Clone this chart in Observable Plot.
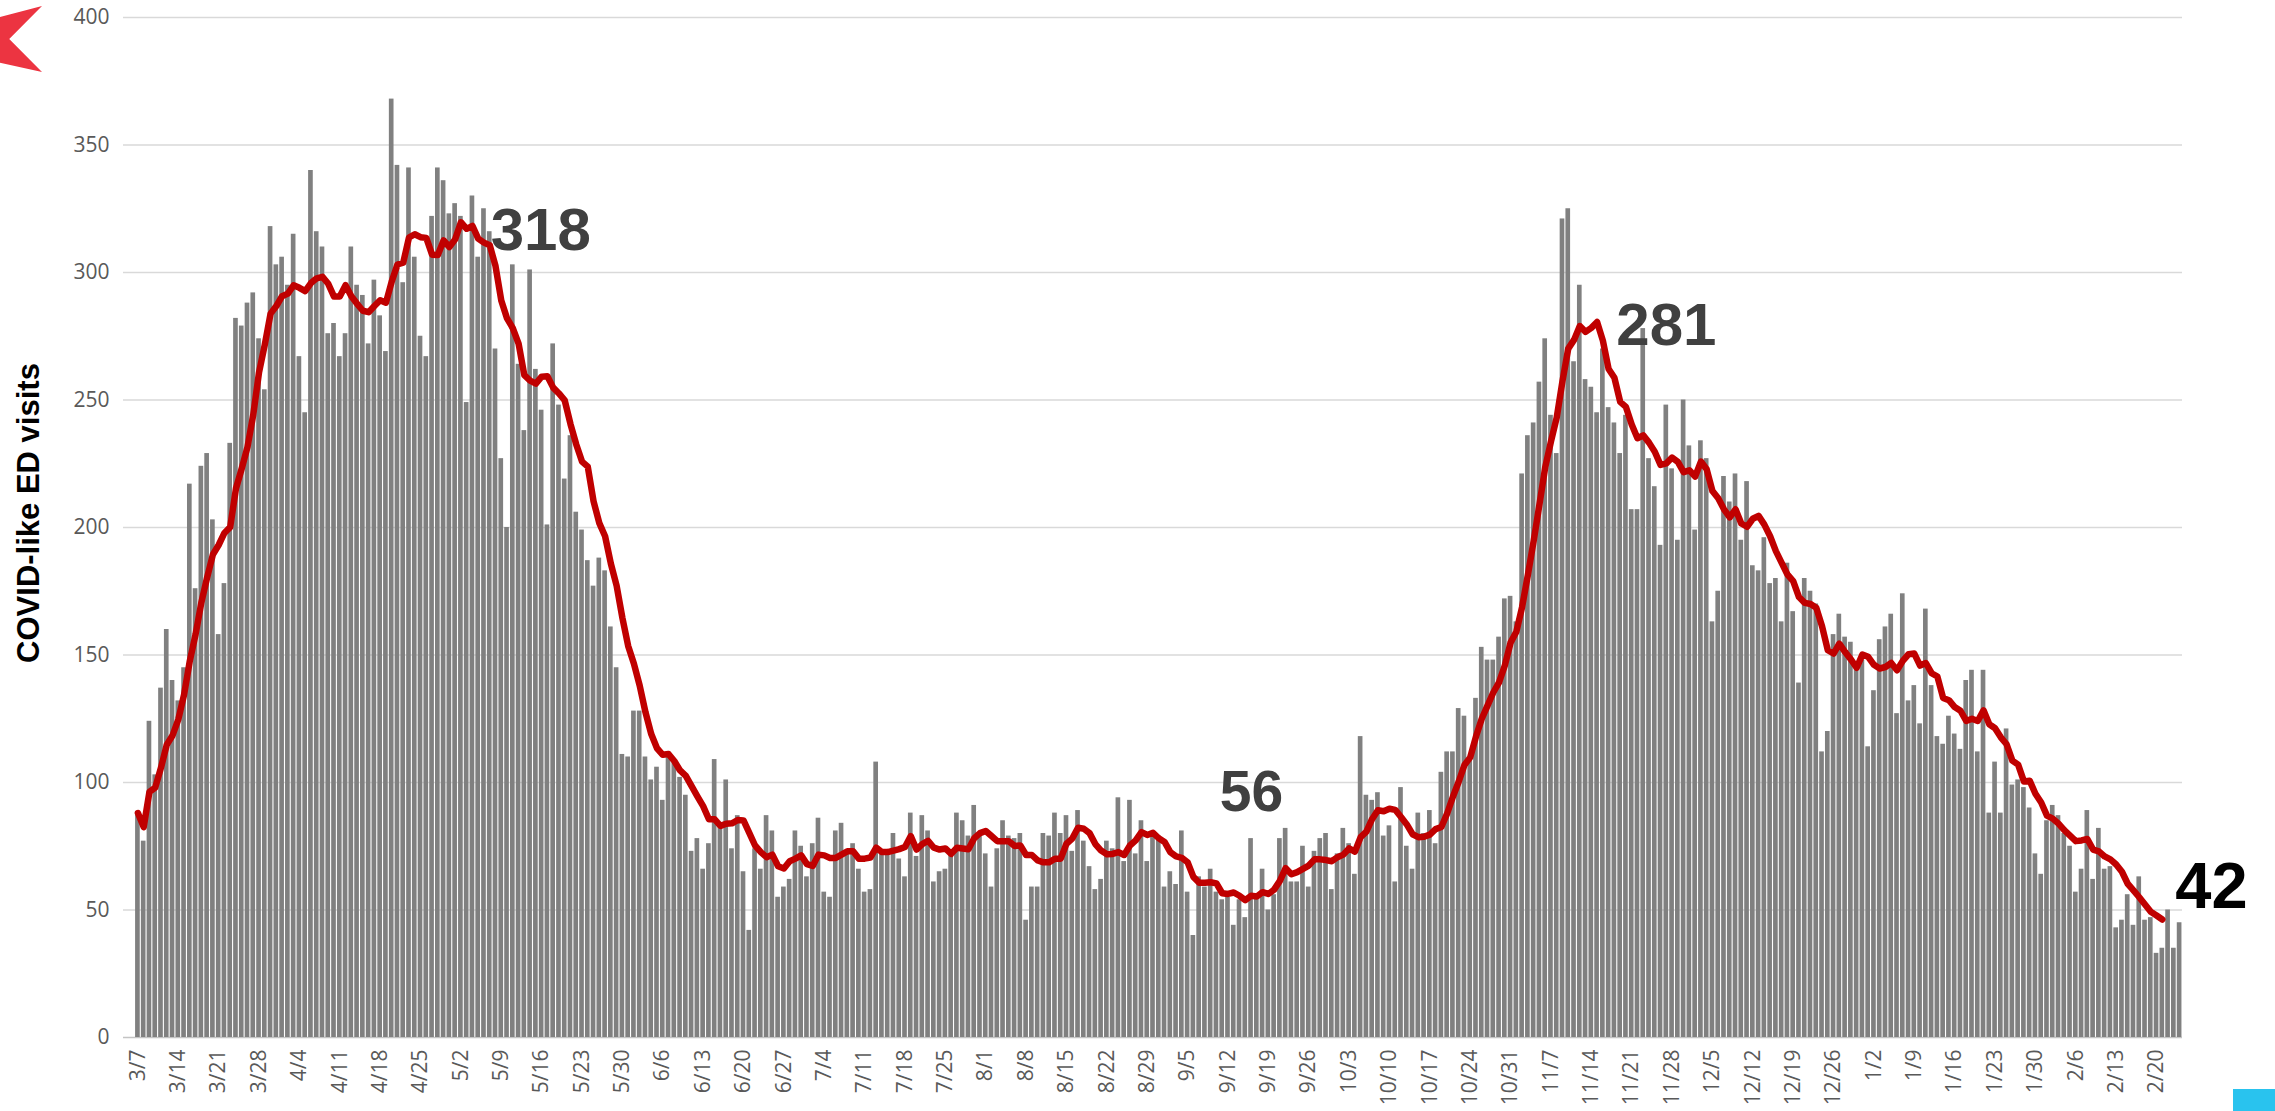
<!DOCTYPE html>
<html>
<head>
<meta charset="utf-8">
<script src="https://cdn.jsdelivr.net/npm/d3@7"></script>
<script src="https://cdn.jsdelivr.net/npm/@observablehq/plot@0.6"></script>
<style>
  body { margin: 0; background: #fff; }
  #wrap { position: relative; width: 2275px; height: 1111px; overflow: hidden; background: #fff; }
  #chart { position: absolute; left: 0; top: 0; }
  #ytitle { position: absolute; left: 29px; top: 513px; transform: translate(-50%, -50%) rotate(-90deg);
            font: bold 31px "Liberation Sans", Arial, sans-serif; color: #000; white-space: nowrap; }
  #logo { position: absolute; left: 0; top: 6px; width: 42px; height: 66px; background: #EC3441;
          clip-path: polygon(0% 16.7%, 100% 0%, 22% 50%, 100% 100%, 0% 86%); }
  #blue { position: absolute; left: 2233px; top: 1089px; width: 42px; height: 22px; background: #29C3EE; }
</style>
</head>
<body>
<div id="wrap">
  <div id="chart"></div>
  <div id="ytitle">COVID-like ED visits</div>
  <div id="logo"></div>
  <div id="blue"></div>
</div>
<script>
// Daily COVID-like ED visits, 3/7/2020 – 2/24/2021, one array per month
const visitsMar2020 = [88, 77, 124, 103, 137, 160, 140, 132, 145, 217, 176, 224, 229, 203, 158, 178, 233, 282, 279, 288, 292, 274, 254, 318, 303];
const visitsApr2020 = [306, 295, 315, 267, 245, 340, 316, 310, 276, 280, 267, 276, 310, 295, 291, 272, 297, 283, 269, 368, 342, 296, 341, 306, 275, 267, 322, 341, 336, 323];
const visitsMay2020 = [327, 322, 249, 330, 306, 325, 316, 270, 227, 200, 303, 264, 238, 301, 262, 246, 201, 272, 248, 219, 236, 206, 199, 187, 177, 188, 183, 161, 145, 111, 110];
const visitsJun2020 = [128, 128, 110, 101, 106, 93, 112, 109, 102, 95, 73, 78, 66, 76, 109, 84, 101, 74, 87, 65, 42, 74, 66, 87, 81, 55, 59, 62, 81, 75];
const visitsJul2020 = [63, 76, 86, 57, 55, 81, 84, 72, 76, 66, 57, 58, 108, 72, 72, 80, 70, 63, 88, 71, 87, 81, 61, 65, 66, 73, 88, 85, 79, 91, 79];
const visitsAug2020 = [72, 59, 74, 85, 79, 78, 80, 46, 59, 59, 80, 79, 88, 80, 87, 73, 89, 77, 67, 58, 62, 77, 74, 94, 69, 93, 72, 85, 69, 80, 79];
const visitsSep2020 = [59, 65, 60, 81, 57, 40, 63, 59, 66, 57, 54, 55, 44, 54, 47, 78, 55, 66, 50, 56, 78, 82, 61, 61, 75, 59, 73, 78, 80, 58];
const visitsOct2020 = [72, 82, 76, 64, 118, 95, 93, 96, 79, 83, 61, 98, 75, 66, 88, 80, 89, 76, 104, 112, 112, 129, 126, 110, 133, 153, 148, 148, 157, 172, 173];
const visitsNov2020 = [163, 221, 236, 241, 257, 274, 244, 229, 321, 325, 265, 295, 258, 255, 245, 270, 247, 241, 229, 244, 207, 207, 278, 227, 216, 193, 248, 223, 195, 250];
const visitsDec2020 = [232, 199, 234, 227, 163, 175, 220, 210, 221, 195, 218, 185, 183, 196, 178, 180, 163, 186, 167, 139, 180, 175, 170, 112, 120, 158, 166, 157, 155, 147, 148];
const visitsJan2021 = [114, 136, 156, 161, 166, 127, 174, 132, 138, 123, 168, 138, 118, 115, 126, 119, 113, 140, 144, 112, 144, 88, 108, 88, 121, 99, 101, 98, 90, 72, 64];
const visitsFeb2021 = [85, 91, 87, 80, 75, 57, 66, 89, 62, 82, 66, 67, 43, 46, 56, 44, 63, 46, 47, 33, 35, 50, 35, 45];

const firstDay = "2020-03-07";
const lastAverageDay = "2021-02-21";   // the 7-day average line stops here

// Axis tick labels
const xTickLabels = ["3/7","3/14","3/21","3/28","4/4","4/11","4/18","4/25","5/2","5/9","5/16","5/23","5/30",
  "6/6","6/13","6/20","6/27","7/4","7/11","7/18","7/25","8/1","8/8","8/15","8/22","8/29","9/5","9/12","9/19",
  "9/26","10/3","10/10","10/17","10/24","10/31","11/7","11/14","11/21","11/28","12/5","12/12","12/19","12/26",
  "1/2","1/9","1/16","1/23","1/30","2/6","2/13","2/20"];
const yTicks = [0, 50, 100, 150, 200, 250, 300, 350, 400];

// Annotations
const annoLabels = ["318", "281", "56", "42"];
const annoDates  = ["2020-05-03", "2020-11-14", "2020-09-14", "2021-02-21"];
const annoValues = [318, 281, 56, 42];

const DAY = 864e5;
const visits = [].concat(visitsMar2020, visitsApr2020, visitsMay2020, visitsJun2020, visitsJul2020,
  visitsAug2020, visitsSep2020, visitsOct2020, visitsNov2020, visitsDec2020, visitsJan2021, visitsFeb2021);
const t0 = Date.parse(firstDay + "T00:00:00Z");
const data = visits.map((v, i) => ({date: new Date(t0 + i * DAY), visits: v}));
const tEnd = Date.parse(lastAverageDay + "T00:00:00Z");
const lineData = data.filter(d => +d.date <= tEnd);

const tickDates = xTickLabels.map(s => {
  const [m, d] = s.split("/").map(Number);
  return new Date(Date.UTC(m >= 3 ? 2020 : 2021, m - 1, d, 12));
});
const tickLabelOf = new Map(tickDates.map((d, i) => [+d, xTickLabels[i]]));

const anno = annoLabels.map((label, i) => ({
  label, value: annoValues[i], date: new Date(Date.parse(annoDates[i] + "T12:00:00Z"))
}));

const textStyle = {x: "date", y: "value", text: "label", fontWeight: "bold",
  fontFamily: "'Liberation Sans', Arial, sans-serif"};

const chart = Plot.plot({
  width: 2275,
  height: 1111,
  marginTop: 17,
  marginRight: 93,
  marginBottom: 74,
  marginLeft: 123,
  style: {fontFamily: "'Open Sans', sans-serif", fontSize: "21px", color: "#595959", background: "white", overflow: "visible"},
  x: {
    type: "utc",
    domain: [new Date(Date.UTC(2020, 2, 5)), new Date(Date.UTC(2021, 1, 25))],
    ticks: tickDates,
    tickFormat: d => tickLabelOf.get(+d) ?? "",
    tickRotate: -90,
    tickSize: 0,
    tickPadding: 12,
    label: null
  },
  y: {
    domain: [0, 400],
    ticks: yTicks,
    tickSize: 0,
    tickPadding: 14,
    label: null
  },
  marks: [
    Plot.ruleY(yTicks.filter(t => t > 0), {stroke: "#d9d9d9", strokeWidth: 1.3}),
    Plot.ruleY([0], {stroke: "#c4c4c4", strokeWidth: 1.6}),
    Plot.rectY(data, {
      x1: d => d.date,
      x2: d => new Date(+d.date + DAY),
      y: "visits",
      fill: "#808080",
      insetLeft: 0.55,
      insetRight: 0.55
    }),
    Plot.lineY(lineData, Plot.windowY({k: 7, anchor: "end", reduce: "mean"}, {
      x: d => new Date(+d.date + DAY / 2),
      y: "visits",
      stroke: "#C00000",
      strokeWidth: 6.5,
      strokeLinejoin: "round",
      strokeLinecap: "round"
    })),
    Plot.text(anno.slice(0, 1), {...textStyle, textAnchor: "start", dx: 24, dy: 4, fontSize: 60, fill: "#404040"}),
    Plot.text(anno.slice(1, 2), {...textStyle, textAnchor: "start", dx: 25, dy: 5, fontSize: 60, fill: "#404040"}),
    Plot.text(anno.slice(2, 3), {...textStyle, textAnchor: "middle", dx: 12, dy: -102, fontSize: 57, fill: "#404040"}),
    Plot.text(anno.slice(3, 4), {...textStyle, textAnchor: "start", dx: 13, dy: -43, fontSize: 65, fill: "#000000"})
  ]
});
document.getElementById("chart").appendChild(chart);
</script>
</body>
</html>
